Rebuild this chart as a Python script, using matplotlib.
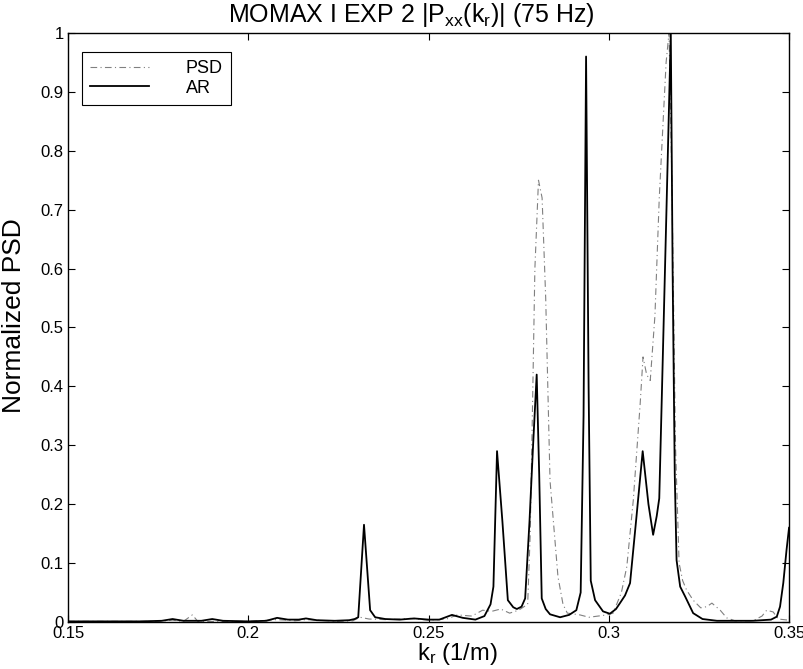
import matplotlib
matplotlib.use("Agg")
from matplotlib import pyplot as plt

plt.rcParams['font.family'] = ['Liberation Sans', 'DejaVu Sans']
plt.rcParams['mathtext.fontset'] = 'custom'
plt.rcParams['mathtext.rm'] = 'Liberation Sans'
plt.rcParams['mathtext.default'] = 'regular'

# AR estimate (solid black)
kAR = [0.150, 0.160, 0.170, 0.176, 0.179, 0.182, 0.187, 0.190, 0.193, 0.200,
       0.205, 0.208, 0.211, 0.214, 0.216, 0.219, 0.224, 0.228, 0.2295, 0.2305,
       0.2321, 0.2338, 0.2352, 0.238, 0.242, 0.246, 0.250, 0.253, 0.2565, 0.2595,
       0.263, 0.2655, 0.2672, 0.2680, 0.2690, 0.2705, 0.2720, 0.2735, 0.2745, 0.2758,
       0.2768, 0.2780, 0.2790, 0.2800, 0.2807, 0.2814, 0.2825, 0.2837, 0.2865, 0.2890,
       0.2910, 0.2922, 0.2930, 0.2937, 0.2944, 0.2950, 0.2962, 0.2984, 0.3003, 0.3020,
       0.3031, 0.3045, 0.3059, 0.3077, 0.3094, 0.3110, 0.3123, 0.3133, 0.3140, 0.3147,
       0.3160, 0.3172, 0.3177, 0.3183, 0.3188, 0.3198, 0.3212, 0.3234, 0.3260, 0.3300,
       0.3400, 0.3450, 0.3466, 0.3475, 0.3484, 0.3493, 0.3500]
ar = [0.001, 0.001, 0.001, 0.002, 0.005, 0.002, 0.002, 0.005, 0.002, 0.001,
      0.002, 0.007, 0.004, 0.004, 0.006, 0.003, 0.002, 0.003, 0.005, 0.008,
      0.165, 0.020, 0.008, 0.005, 0.004, 0.006, 0.004, 0.004, 0.012, 0.007,
      0.004, 0.010, 0.030, 0.060, 0.290, 0.170, 0.037, 0.025, 0.022, 0.026,
      0.040, 0.170, 0.300, 0.420, 0.250, 0.040, 0.022, 0.013, 0.008, 0.012,
      0.020, 0.050, 0.350, 0.960, 0.400, 0.070, 0.037, 0.018, 0.014, 0.022,
      0.032, 0.045, 0.066, 0.180, 0.290, 0.200, 0.148, 0.180, 0.210, 0.380,
      0.700, 1.000, 0.600, 0.250, 0.105, 0.060, 0.043, 0.015, 0.005, 0.002,
      0.002, 0.004, 0.009, 0.026, 0.066, 0.122, 0.160]

# periodogram PSD (grey dash-dot)
kPSD = [0.150, 0.175, 0.179, 0.182, 0.1845, 0.186, 0.200, 0.208, 0.213, 0.216,
        0.225, 0.229, 0.231, 0.2335, 0.238, 0.245, 0.250, 0.255, 0.258, 0.262,
        0.265, 0.2675, 0.270, 0.2725, 0.275, 0.2775, 0.2782, 0.2788, 0.2795, 0.2805,
        0.2815, 0.2825, 0.2837, 0.2859, 0.2873, 0.2885, 0.292, 0.2945, 0.297, 0.2995,
        0.3012, 0.3035, 0.3050, 0.3068, 0.3087, 0.3095, 0.3105, 0.3115, 0.3128, 0.3140,
        0.3159, 0.3167, 0.3175, 0.3185, 0.3195, 0.3205, 0.3216, 0.3234, 0.3255, 0.3272,
        0.3286, 0.3309, 0.3327, 0.335, 0.340, 0.3425, 0.3438, 0.3456, 0.347, 0.350]
psd = [0.001, 0.001, 0.003, 0.001, 0.012, 0.001, 0.001, 0.004, 0.002, 0.004,
       0.001, 0.002, 0.008, 0.005, 0.004, 0.006, 0.003, 0.005, 0.012, 0.010,
       0.020, 0.018, 0.022, 0.015, 0.020, 0.030, 0.150, 0.350, 0.600, 0.750,
       0.720, 0.550, 0.240, 0.077, 0.030, 0.015, 0.012, 0.008, 0.010, 0.012,
       0.015, 0.050, 0.094, 0.207, 0.370, 0.450, 0.420, 0.410, 0.520, 0.720,
       0.950, 1.000, 0.750, 0.300, 0.100, 0.070, 0.054, 0.037, 0.024, 0.026,
       0.032, 0.020, 0.007, 0.002, 0.002, 0.010, 0.020, 0.017, 0.005, 0.003]

xticks = [0.15, 0.2, 0.25, 0.3, 0.35]
xticklabels = ['0.15', '0.2', '0.25', '0.3', '0.35']
yticks = [0, 0.1, 0.2, 0.3, 0.4, 0.5, 0.6, 0.7, 0.8, 0.9, 1]
yticklabels = ['0', '0.1', '0.2', '0.3', '0.4', '0.5', '0.6', '0.7', '0.8', '0.9', '1']

fig = plt.figure(figsize=(8.04, 6.69), dpi=100)
ax = fig.add_axes([0.0846, 0.0703, 0.8968, 0.8804])

ax.plot(kPSD, psd, color='#808080', lw=0.8, linestyle=(0, (6, 3, 1, 3)), label='PSD')
ax.plot(kAR, ar, color='black', lw=1.3, label='AR')

ax.set_xlim(0.15, 0.35)
ax.set_ylim(0, 1)
ax.set_xticks(xticks)
ax.set_xticklabels(xticklabels)
ax.set_yticks(yticks)
ax.set_yticklabels(yticklabels)
ax.tick_params(direction='in', top=True, right=True, length=5, width=0.8,
               labelsize=12, pad=3)
for s in ax.spines.values():
    s.set_linewidth(1.0)

# titulo centrado como en el original (algo corrido a la izquierda)
fig.text(0.512, 1 - 22 / 669, r'MOMAX I EXP 2 |P$_{xx}$(k$_r$)| (75 Hz)',
         fontsize=18, ha='center', va='baseline')
ax.set_ylabel('Normalized PSD', fontsize=19)
ax.yaxis.set_label_coords(-0.058, 0.52)
ax.set_xlabel(r'k$_r$ (1/m)', fontsize=17)
ax.xaxis.set_label_coords(0.5395, -0.033)
ax.xaxis.label.set_va('top')

leg = ax.legend(loc='upper left', bbox_to_anchor=(0.019, 0.968), borderaxespad=0,
                fancybox=False, edgecolor='black', framealpha=1, fontsize=13,
                handlelength=3.3, handletextpad=2.0, borderpad=0.45, labelspacing=0.15)
leg.get_frame().set_linewidth(0.8)

fig.savefig('out.png', dpi=100)
